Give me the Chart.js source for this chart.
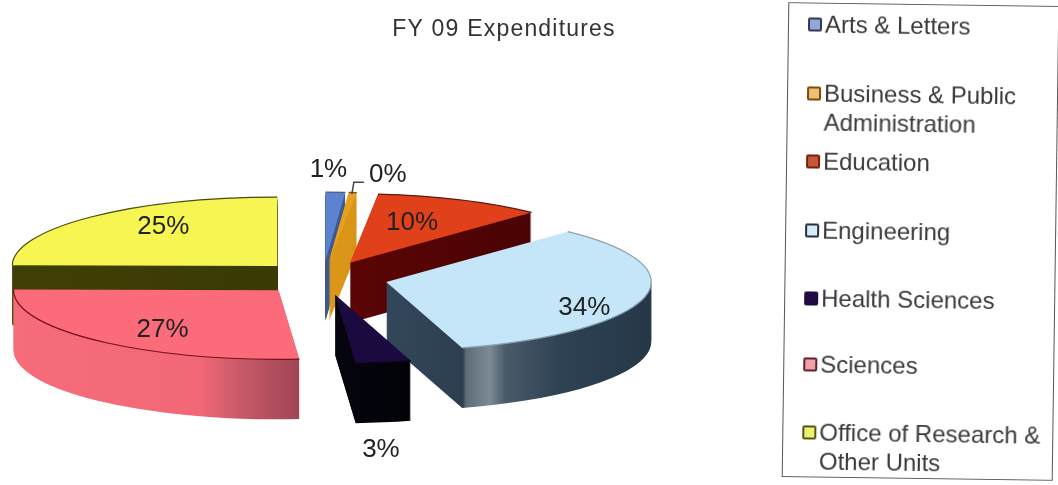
<!DOCTYPE html>
<html>
<head>
<meta charset="utf-8">
<script src="https://cdn.jsdelivr.net/npm/chart.js@4"></script>
<style>
  html, body { margin: 0; padding: 0; background: #fff; overflow: hidden; }
  #wrap { position: relative; width: 1058px; height: 485px; overflow: hidden; }
  #legend {
    position: absolute; left: 785px; top: 4px; width: 271px; height: 475px;
    border: 1px solid #555; box-sizing: border-box; background: #fff;
    transform: rotate(0.8deg);
    font: 24px "Liberation Sans", Arial, sans-serif; color: #3a3a3a;
  }
  .row { position: absolute; left: 36px; width: 232px; line-height: 29px; }
  .swatch { position: absolute; left: -17px; top: 8px; width: 14px; height: 14px; box-sizing: border-box; border: 2px solid; border-radius: 2px; }
</style>
</head>
<body>
<div id="wrap">
  <canvas id="pie"></canvas>
  <div id="legend"></div>
</div>
<script>
const chartTitle = 'FY 09 Expenditures';
const categories = ['Arts & Letters', 'Business & Public Administration', 'Education', 'Engineering', 'Health Sciences', 'Sciences', 'Office of Research & Other Units'];
const shares = [1.2, 0.49, 10.4, 33.6, 3.4, 26.6, 25];

const topColors = ['#5b83d0', '#e8a020', '#e0401a', '#c5e5f8', '#1a0a40', '#fb6b7a', '#f6f552'];
const edgeColors = ['#4a5a80', '#6a5020', '#5c1a10', '#8aa0b0', '#100520', '#7a1020', '#4a4a10'];
const wallStops = [
  [[300, '#3d5a90'], [360, '#3d5a90']],
  [[300, '#e09a18'], [360, '#d89418']],
  [[340, '#5c0505'], [530, '#4a0303']],
  [[390, '#34475a'], [463, '#2c3e50'], [466, '#5c6c78'], [490, '#7d8b96'], [505, '#4a5a68'], [560, '#2e4254'], [648, '#263848']],
  [[330, '#05050f'], [410, '#020208']],
  [[12, '#f66c7a'], [200, '#f26877'], [240, '#c85a68'], [297, '#a04656']],
  [[12, '#3f3f05'], [277, '#3a3a04']]
];
const paintOrder = [6, 0, 1, 2, 3, 5, 4];
const labelOffsets = [[3, -91], [59, -86], [62, -40], [198, 26], [46, 155], [-116, 39], [-114, -39]];

const legendTops = [6, 75, 143, 212, 280, 346, 414];
const swatchBorders = ['#333a50', '#7a4a10', '#702010', '#223040', '#200a40', '#602030', '#555510'];
const swatchFills = ['#8fa8d8', '#f0c070', '#c8553a', '#d5ebf8', '#200a40', '#f0a0a8', '#eef070'];

const pieCenterY = 278;
const squash = 0.26;
const explode = 65;
const wallDepth = 60;

document.getElementById('legend').innerHTML = categories.map((name, i) =>
  `<div class="row" style="top:${legendTops[i]}px"><span class="swatch" style="border-color:${swatchBorders[i]};background:${swatchFills[i]}"></span>${name.replace(/&/g, '&amp;')}</div>`
).join('');

// Chart.js has no 3D pie, so squash the arcs and stack them to get the walls
const pie3d = {
  id: 'pie3d',
  beforeDatasetsDraw(chart) {
    const ctx = chart.ctx;
    const arcs = chart.getDatasetMeta(0).data;

    paintOrder.forEach((i) => {
      const arc = arcs[i];
      const mid = (arc.startAngle + arc.endAngle) / 2;
      const ex = Math.cos(mid) * explode;
      const ey = Math.sin(mid) * explode;
      const place = (drop) => {
        ctx.translate(0, pieCenterY + drop);
        ctx.scale(1, squash);
        ctx.translate(ex, ey - arc.y);
      };
      const paint = (fill) => {
        const resolved = arc.options;
        arc.options = Object.assign({}, resolved, { backgroundColor: fill });
        arc.draw(ctx);
        arc.options = resolved;
      };

      const stops = wallStops[i];
      const x0 = stops[0][0];
      const x1 = stops[stops.length - 1][0];
      const wall = ctx.createLinearGradient(x0 - ex, 0, x1 - ex, 0);
      stops.forEach((s) => wall.addColorStop((s[0] - x0) / (x1 - x0), s[1]));

      for (let d = wallDepth; d > 0; d--) {
        ctx.save();
        place(d);
        paint(wall);
        ctx.restore();
      }

      ctx.save();
      place(0);
      paint(topColors[i]);
      ctx.beginPath();
      ctx.arc(arc.x, arc.y, arc.outerRadius, arc.startAngle, arc.endAngle);
      ctx.restore();
      ctx.strokeStyle = edgeColors[i];
      ctx.lineWidth = 1.2;
      ctx.stroke();
    });
    return false;
  },
  afterDraw(chart) {
    const ctx = chart.ctx;
    const arcs = chart.getDatasetMeta(0).data;

    ctx.save();
    ctx.textAlign = 'center';
    ctx.textBaseline = 'middle';
    ctx.fillStyle = '#333';
    ctx.font = '23px "Liberation Sans", Arial, sans-serif';
    ctx.letterSpacing = '1.2px';
    ctx.fillText(chartTitle, 504, 30);
    ctx.letterSpacing = '0px';

    ctx.font = '26px "Liberation Sans", Arial, sans-serif';
    ctx.fillStyle = '#222';
    arcs.forEach((arc, i) => {
      const mid = (arc.startAngle + arc.endAngle) / 2;
      const ax = arc.x + Math.cos(mid) * explode;
      const ay = pieCenterY + Math.sin(mid) * explode * squash;
      ctx.fillText(Math.round(shares[i]) + '%', ax + labelOffsets[i][0], ay + labelOffsets[i][1]);

      // leader line for the tiny 0% slice
      if (i === 1) {
        ctx.strokeStyle = '#444';
        ctx.lineWidth = 1.5;
        ctx.beginPath();
        ctx.moveTo(ax + labelOffsets[i][0] - 24, ay - 79);
        ctx.lineTo(ax + 25, ay - 79);
        ctx.lineTo(ax + 23, ay - 67);
        ctx.stroke();
      }
    });
    ctx.restore();
  }
};

new Chart(document.getElementById('pie'), {
  type: 'pie',
  data: {
    labels: categories,
    datasets: [
      {
        data: shares,
        backgroundColor: topColors,
        borderWidth: 0,
      },
    ],
  },
  options: {
    responsive: true,
    maintainAspectRatio: false,
    animation: false,
    events: [],
    radius: 265,
    layout: {
      padding: { right: 412 },
    },
    plugins: {
      legend: { display: false },
      tooltip: { enabled: false },
    },
  },
  plugins: [pie3d],
});
</script>
</body>
</html>
